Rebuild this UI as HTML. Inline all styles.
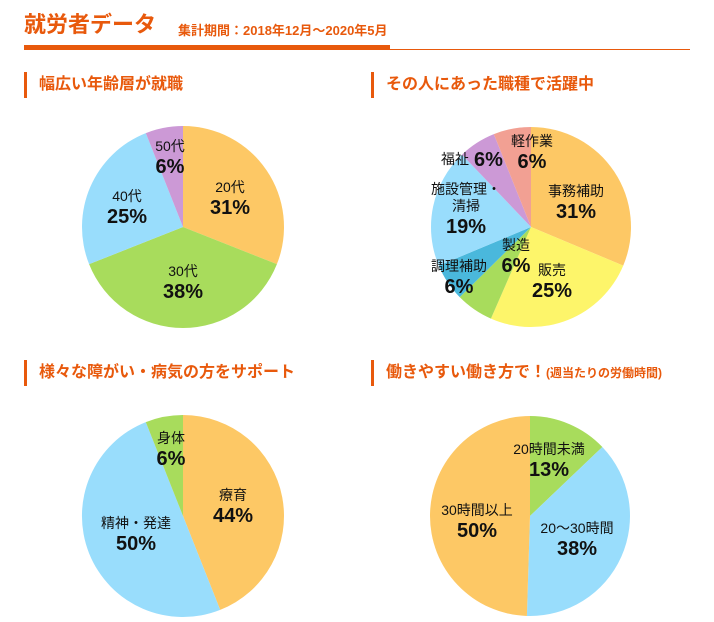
<!DOCTYPE html>
<html><head><meta charset="utf-8"><style>
body{margin:0;width:714px;height:622px;background:#fff;font-family:"Liberation Sans","Noto Sans CJK JP",sans-serif;position:relative;overflow:hidden}
.o{color:#e8590c;font-weight:bold;position:absolute;white-space:nowrap}
.sec{position:absolute;border-left:3px solid #e8590c;height:26px;padding-left:12px;line-height:26px;font-size:16px;font-weight:bold;color:#e8590c;white-space:nowrap}
svg{position:absolute;left:0;top:0}
</style></head><body>
<div class="o" style="left:24px;top:7px;font-size:22px">就労者データ</div>
<div class="o" style="left:178px;top:20px;font-size:13px">集計期間：2018年12月～2020年5月</div>
<div style="position:absolute;left:24px;top:45px;width:366px;height:5px;background:#e8590c"></div>
<div style="position:absolute;left:390px;top:49px;width:300px;height:1px;background:#e8590c"></div>
<div class="sec" style="left:24px;top:72px">幅広い年齢層が就職</div>
<div class="sec" style="left:371px;top:72px">その人にあった職種で活躍中</div>
<div class="sec" style="left:24px;top:360px">様々な障がい・病気の方をサポート</div>
<div class="sec" style="left:371px;top:360px">働きやすい働き方で！<span style="font-size:12px">(週当たりの労働時間)</span></div>
<svg id="s" width="714" height="622" xmlns="http://www.w3.org/2000/svg"><g id="sl"></g><g id="lb"></g></svg>
<script>
const ageCats=["20代","30代","40代","50代"];
const ageVals=[31,38,25,6];
const jobCats=["事務補助","販売","製造","調理補助","施設管理・清掃","福祉","軽作業"];
const jobVals=[31,25,6,6,19,6,6];
const disCats=["療育","精神・発達","身体"];
const disVals=[44,50,6];
const hourCats=["20時間未満","20～30時間","30時間以上"];
const hourVals=[13,38,50];
const O="#fdc865",G="#a8dc5c",B="#99ddfc",P="#cc99d6",Y="#fdf56a",T="#4ab8dc",K="#f2a093";
const SL=document.getElementById('sl'),LB=document.getElementById('lb');const NS="http://www.w3.org/2000/svg";
function pie(name,cx,cy,r,cats,vals,cols,labels){
  const tot=vals.reduce((a,b)=>a+b,0);let a0=0;
  vals.forEach((v,i)=>{
    const a1=a0+v/tot*2*Math.PI;
    const x0=cx+r*Math.sin(a0),y0=cy-r*Math.cos(a0),x1=cx+r*Math.sin(a1),y1=cy-r*Math.cos(a1);
    const p=document.createElementNS(NS,'path');
    p.setAttribute('d',`M${cx},${cy}L${x0},${y0}A${r},${r} 0 ${a1-a0>Math.PI?1:0} 1 ${x1},${y1}Z`);
    p.setAttribute('fill',cols[i]);
    
    
    SL.appendChild(p);
    const L=labels[i];
    const lines=L.name.split('\n');
    lines.forEach((ln,k)=>{
      const t=document.createElementNS(NS,'text');
      t.setAttribute('x',L.x);t.setAttribute('y',L.y+k*17);t.setAttribute('text-anchor','middle');
      t.setAttribute('font-size','14');t.setAttribute('fill','#111');t.textContent=ln;
      
      
      LB.appendChild(t);
    });
    const t2=document.createElementNS(NS,'text');
    t2.setAttribute('x',L.px!==undefined?L.px:L.x);t2.setAttribute('y',L.py!==undefined?L.py:L.y+(lines.length-1)*17+22);
    t2.setAttribute('text-anchor',L.anc||'middle');
    t2.setAttribute('font-size','20');t2.setAttribute('font-weight','bold');t2.setAttribute('fill','#111');
    t2.textContent=vals[i]+'%';
    
    
    LB.appendChild(t2);
    a0=a1;
  });
}
pie('age-pie',183,227,101,ageCats,ageVals,[O,G,B,P],[
 {name:"20代",x:230,y:192},{name:"30代",x:183,y:276},{name:"40代",x:127,y:201},{name:"50代",x:170,y:151}]);
pie('job-pie',531,227,100,jobCats,jobVals,[O,Y,G,T,B,P,K],[
 {name:"事務補助",x:576,y:196},{name:"販売",x:552,y:275},{name:"製造",x:516,y:250},{name:"調理補助",x:459,y:271},
 {name:"施設管理・\n清掃",x:466,y:194},{name:"福祉",x:455,y:164,px:474,py:166,anc:"start"},{name:"軽作業",x:532,y:146}]);
pie('disability-pie',183,516,101,disCats,disVals,[O,B,G],[
 {name:"療育",x:233,y:500},{name:"精神・発達",x:136,y:528},{name:"身体",x:171,y:443}]);
pie('hours-pie',530,516,100,hourCats,hourVals,[G,B,O],[
 {name:"20時間未満",x:549,y:454},{name:"20～30時間",x:577,y:533},{name:"30時間以上",x:477,y:515}]);
</script>
</body></html>
